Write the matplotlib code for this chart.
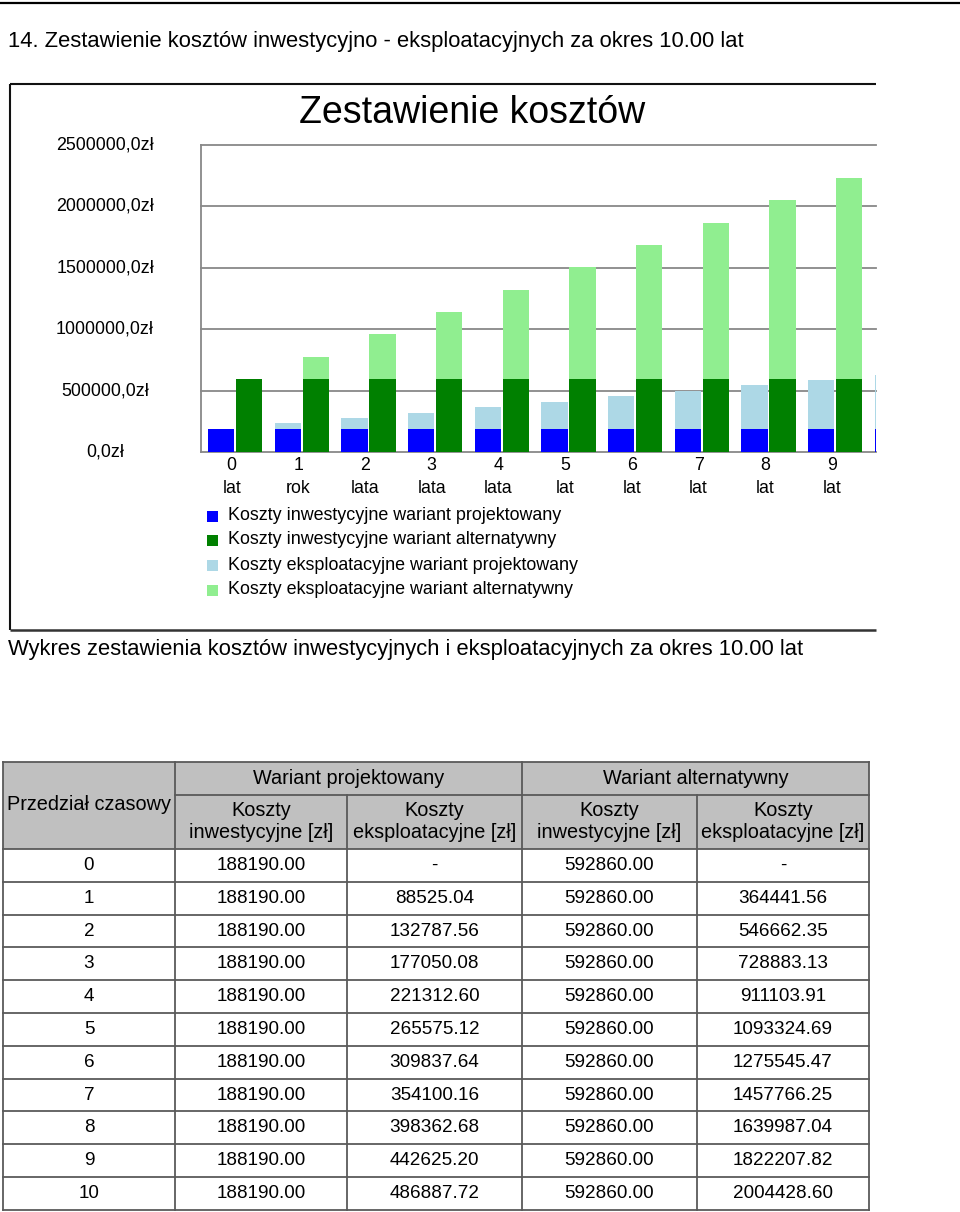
import matplotlib
matplotlib.use("Agg")
import matplotlib.pyplot as plt
from matplotlib.patches import Rectangle
from matplotlib import transforms

# ---------------- data ----------------
periods = ["0", "1", "2", "3", "4", "5", "6", "7", "8", "9", "10"]
period_words = ["lat", "rok", "lata", "lata", "lata", "lat", "lat", "lat", "lat", "lat", "lat"]

# chart series (values as drawn in the chart)
chart_inv_proj = [188190.00] * 11
chart_expl_proj = [0, 44262.52, 88525.04, 132787.56, 177050.08, 221312.60,
                   265575.12, 309837.64, 354100.16, 398362.68, 442625.20]
chart_inv_alt = [592860.00] * 11
chart_expl_alt = [0, 182220.78, 364441.56, 546662.35, 728883.13, 911103.91,
                  1093324.69, 1275545.47, 1457766.25, 1639987.04, 1822207.82]

y_ticks = [0, 500000, 1000000, 1500000, 2000000, 2500000]
y_tick_labels = ["0,0zł", "500000,0zł", "1000000,0zł", "1500000,0zł", "2000000,0zł", "2500000,0zł"]

series_names = ["Koszty inwestycyjne wariant projektowany",
                "Koszty inwestycyjne wariant alternatywny",
                "Koszty eksploatacyjne wariant projektowany",
                "Koszty eksploatacyjne wariant alternatywny"]
series_colors = ["#0000ff", "#008000", "#add8e6", "#90ee90"]

# table
table_inv_proj = ["188190.00"] * 11
table_expl_proj = ["-", "88525.04", "132787.56", "177050.08", "221312.60", "265575.12",
                   "309837.64", "354100.16", "398362.68", "442625.20", "486887.72"]
table_inv_alt = ["592860.00"] * 11
table_expl_alt = ["-", "364441.56", "546662.35", "728883.13", "911103.91", "1093324.69",
                  "1275545.47", "1457766.25", "1639987.04", "1822207.82", "2004428.60"]

doc_title = "14. Zestawienie kosztów inwestycyjno - eksploatacyjnych za okres 10.00 lat"
chart_title = "Zestawienie kosztów"
caption = "Wykres zestawienia kosztów inwestycyjnych i eksploatacyjnych za okres 10.00 lat"

# ---------------- figure ----------------
W, H = 960, 1212
fig = plt.figure(figsize=(W / 100, H / 100), dpi=100)
fig.patch.set_facecolor("white")

DOC = ["Liberation Sans", "DejaVu Sans"]
CHART = ["Liberation Sans", "DejaVu Sans"]

page = fig.add_axes([0, 0, 1, 1], zorder=0)
page.set_xlim(0, W)
page.set_ylim(H, 0)
page.axis("off")

# top rule
page.plot([0, W], [3, 3], color="black", lw=1.6, solid_capstyle="butt")
page.text(8, 41, doc_title, fontsize=15.8, family=DOC, va="center", ha="left")

# chart image box
page.plot([10, 876], [84, 84], color="#111111", lw=1.5, solid_capstyle="butt")
page.plot([10, 10], [84, 630], color="#111111", lw=1.5, solid_capstyle="butt")
page.plot([10, 876], [630, 630], color="#333333", lw=1.8, solid_capstyle="butt")
page.text(472, 113, chart_title, fontsize=27, family=CHART, va="center", ha="center")

# chart axes
px_left, px_right, px_top, px_bottom = 201, 876, 145, 452
ax = fig.add_axes([px_left / W, 1 - px_bottom / H, (px_right - px_left) / W, (px_bottom - px_top) / H],
                  zorder=1)
ax.set_facecolor("none")
grp = 66.7
ax.set_xlim(-(235 - px_left) / grp, (px_right - 235) / grp)
ax.set_ylim(0, 2500000)

x = list(range(len(periods)))
bw = 0.395
off = 0.21
xp = [i - off for i in x]
xa = [i + off for i in x]
ax.bar(xp, chart_inv_proj, width=bw, color=series_colors[0], zorder=3)
ax.bar(xp, chart_expl_proj, width=bw, bottom=chart_inv_proj, color=series_colors[2], zorder=3)
ax.bar(xa, chart_inv_alt, width=bw, color=series_colors[1], zorder=3)
ax.bar(xa, chart_expl_alt, width=bw, bottom=chart_inv_alt, color=series_colors[3], zorder=3)

for v in y_ticks:
    ax.axhline(v, color="#888888", lw=1.3, zorder=1, clip_on=False)
for s in ["top", "right", "bottom"]:
    ax.spines[s].set_visible(False)
ax.spines["left"].set_color("#888888")
ax.spines["left"].set_linewidth(1.3)
ax.set_yticks([])
ax.tick_params(axis="x", length=0, pad=3.5)
ax.set_xticks([i - 0.05 for i in x[:10]])
ax.set_xticklabels([f"{p}\n{w}" for p, w in zip(periods[:10], period_words[:10])],
                   fontsize=12.8, family=CHART, linespacing=1.45)

ytr = transforms.blended_transform_factory(page.transData, ax.transData)
for v, lab in zip(y_ticks, y_tick_labels):
    page.text(105, v, lab, transform=ytr, fontsize=12.9, family=CHART, ha="center", va="center")

# legend
leg_y = [516, 540, 565, 590]
for yy, name, col in zip(leg_y, series_names, series_colors):
    page.add_patch(Rectangle((207, yy - 5.5), 11, 11, facecolor=col, edgecolor="none"))
    page.text(228, yy, name, fontsize=12.9, family=CHART, va="center", ha="left")

page.text(8, 649, caption, fontsize=15.8, family=DOC, va="center", ha="left")

# ---------------- table ----------------
cols = [3, 175, 347, 522, 697, 869]
t_top, t_mid, t_hbot = 762, 795, 849
row_h = 32.8
n_rows = len(periods)
t_bot = t_hbot + row_h * n_rows
page.add_patch(Rectangle((cols[0], t_top), cols[-1] - cols[0], t_hbot - t_top,
                         facecolor="#c0c0c0", edgecolor="none"))
lc = "#5a5a5a"
lw = 1.3
page.plot([cols[0], cols[-1]], [t_top, t_top], color=lc, lw=lw)
page.plot([cols[1], cols[-1]], [t_mid, t_mid], color=lc, lw=lw)
for r in range(n_rows + 1):
    yy = t_hbot + row_h * r
    page.plot([cols[0], cols[-1]], [yy, yy], color=lc, lw=lw)
for i, cx in enumerate(cols):
    y0 = t_mid if i in (2, 4) else t_top
    page.plot([cx, cx], [y0, t_bot], color=lc, lw=lw)

fs_h = 14.3
fs_d = 13.6
page.text((cols[0] + cols[1]) / 2, 805, "Przedział czasowy", fontsize=fs_h, family=DOC,
          ha="center", va="center")
page.text((cols[1] + cols[3]) / 2, 778, "Wariant projektowany", fontsize=fs_h, family=DOC,
          ha="center", va="center")
page.text((cols[3] + cols[5]) / 2, 778, "Wariant alternatywny", fontsize=fs_h, family=DOC,
          ha="center", va="center")
subs = ["Koszty\ninwestycyjne [zł]", "Koszty\neksploatacyjne [zł]",
        "Koszty\ninwestycyjne [zł]", "Koszty\neksploatacyjne [zł]"]
for i, s in enumerate(subs):
    page.text((cols[i + 1] + cols[i + 2]) / 2, 822, s, fontsize=fs_h, family=DOC,
              ha="center", va="center", linespacing=1.2)

for r in range(n_rows):
    yy = t_hbot + row_h * (r + 0.5)
    vals = [periods[r], table_inv_proj[r], table_expl_proj[r], table_inv_alt[r], table_expl_alt[r]]
    for c, v in enumerate(vals):
        page.text((cols[c] + cols[c + 1]) / 2, yy, v, fontsize=fs_d, family=DOC,
                  ha="center", va="center")

fig.savefig("out.png", dpi=100, facecolor="white")
